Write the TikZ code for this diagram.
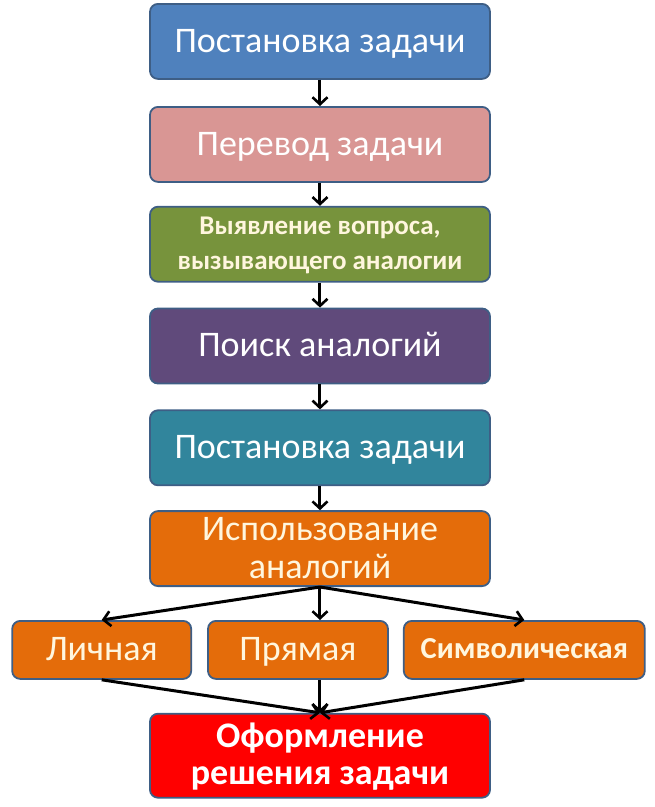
\documentclass[tikz,border=0pt]{standalone}
\usepackage{fontspec}
\setmainfont{Carlito}
\usepackage{xcolor}
\usetikzlibrary{arrows.meta, positioning}

\definecolor{edgeblue}{HTML}{3E5E85}
\definecolor{stepblue}{HTML}{4F81BD}
\definecolor{steppink}{HTML}{D99694}
\definecolor{stepgreen}{HTML}{77933C}
\definecolor{steppurple}{HTML}{604A7B}
\definecolor{stepteal}{HTML}{31859C}
\definecolor{steporange}{HTML}{E46C0A}
\definecolor{stepred}{HTML}{FF0000}
\definecolor{creamtext}{HTML}{FFF6DE}

\begin{document}
\begin{tikzpicture}[
  box/.style={draw=edgeblue, line width=1.8pt, rounded corners=8pt, align=center, text=white, inner sep=0pt, text height=25pt, text depth=3.6pt},
  mainbox/.style={box, minimum width=340pt, minimum height=75pt, font=\fontsize{36}{43}\selectfont},
  subbox/.style={box, fill=steporange, text=creamtext, minimum height=58pt, font=\fontsize{36}{43}\selectfont},
  arrow/.style={-{Straight Barb[length=7pt, width=15pt, line width=2.6pt]}, line width=3pt, draw=black}
]
  \useasboundingbox (-320pt,41.4pt) rectangle (335pt,-765.6pt);

  % main chain
  \node[mainbox, fill=stepblue] (post1) {Постановка задачи};
  \node[mainbox, fill=steppink, below=26.2pt of post1] (perev) {Перевод задачи};
  \node[mainbox, fill=stepgreen, text=creamtext, font=\bfseries\fontsize{27}{35}\selectfont, text height=54pt, text depth=2.7pt, below=23pt of perev] (vyyav) {Выявление вопроса,\\вызывающего аналогии};
  \node[mainbox, fill=steppurple, below=25pt of vyyav] (poisk) {Поиск аналогий};
  \node[mainbox, fill=stepteal, below=25pt of poisk] (post2) {Постановка задачи};
  \node[mainbox, fill=steporange, text=creamtext, font=\fontsize{36}{38}\selectfont, text height=63pt, below=24pt of post2] (ispol) {Использование\\аналогий};
  \draw[arrow] (post1) -- (perev);
  \draw[arrow] (perev) -- (vyyav);
  \draw[arrow] (vyyav) -- (poisk);
  \draw[arrow] (poisk) -- (post2);
  \draw[arrow] (post2) -- (ispol);

  % kinds of analogy
  \node[subbox, minimum width=180pt, below=33pt of ispol, xshift=-22pt] (pryam) {Прямая};
  \node[subbox, minimum width=179pt, left=15pt of pryam] (lich) {Личная};
  \node[subbox, minimum width=241pt, right=14pt of pryam, font=\bfseries\fontsize{30.5}{36}\selectfont, text height=21pt, text depth=3pt] (simv) {Символическая};
  \draw[arrow] (ispol.south) -- (lich.north);
  \draw[arrow] (ispol.south) -- (pryam.north -| ispol.south);
  \draw[arrow] (ispol.south) -- (simv.north);

  % result
  \node[mainbox, fill=stepred, minimum height=84pt, font=\bfseries\fontsize{36}{37}\selectfont, text height=62pt, below=33pt of pryam, xshift=22pt] (oform) {Оформление\\решения задачи};
  \draw[arrow] (lich.south) -- (oform.north);
  \draw[arrow] (pryam.south -| oform.north) -- (oform.north);
  \draw[arrow] (simv.south) -- (oform.north);

\end{tikzpicture}
\end{document}
